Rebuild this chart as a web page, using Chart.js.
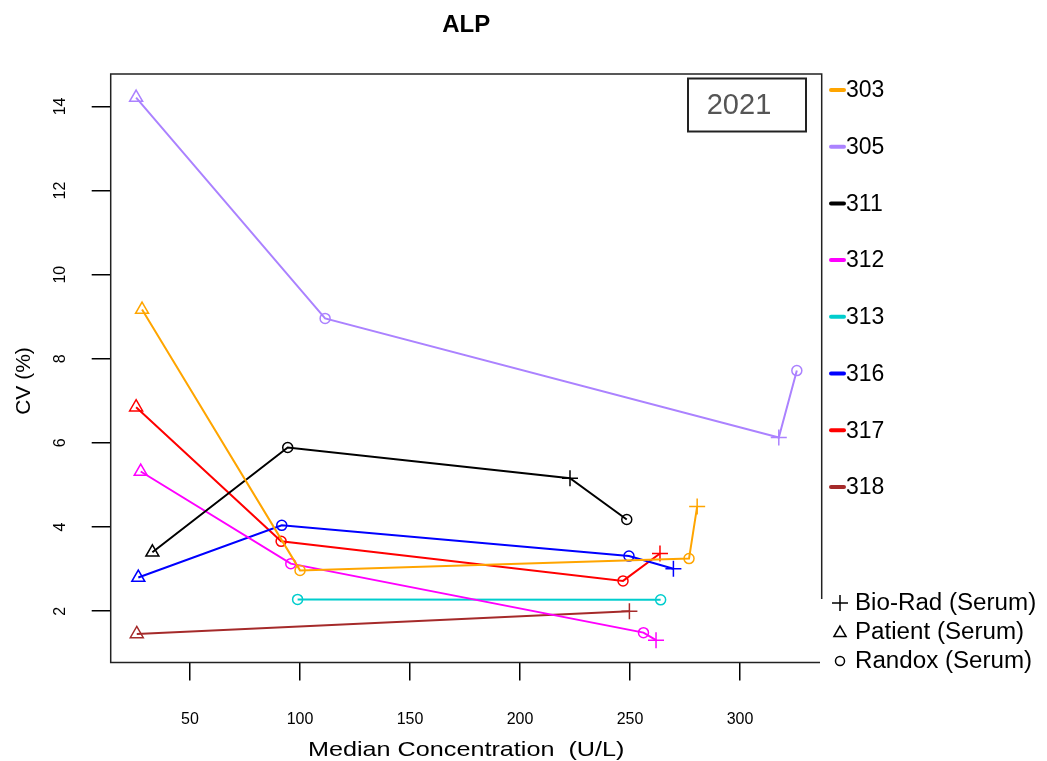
<!DOCTYPE html>
<html>
<head>
<meta charset="utf-8">
<title>ALP</title>
<script src="https://cdn.jsdelivr.net/npm/chart.js@4/dist/chart.umd.min.js"></script>
<style>
  html, body { margin: 0; padding: 0; background: #fff; }
  canvas { display: block; }
</style>
</head>
<body>
<canvas id="cvChart" width="1047" height="761"></canvas>
<script>
// labs, their colours, and per-lab points (sorted by concentration)
const labs = ['303', '305', '311', '312', '313', '316', '317', '318'];
const colours = ['#FFA500', '#AB82FF', '#000000', '#FF00FF', '#00CDCD', '#0000FF', '#FF0000', '#A52A2A'];

const concentrations = [
  [28.2, 100.0, 276.8, 280.5],
  [25.5, 111.4, 317.6, 325.8],
  [32.9, 94.4, 222.7, 248.5],
  [27.6, 95.8, 256.1, 261.8],
  [98.9, 263.9],
  [26.5, 91.7, 249.5, 269.7],
  [25.5, 91.4, 246.8, 263.6],
  [25.8, 249.7]
];
const cvs = [
  [9.17, 2.97, 3.25, 4.49],
  [14.21, 8.96, 6.13, 7.72],
  [3.40, 5.89, 5.16, 4.18],
  [5.32, 3.13, 1.49, 1.31],
  [2.28, 2.27],
  [2.80, 4.04, 3.31, 3.01],
  [6.85, 3.66, 2.72, 3.37],
  [1.46, 2.00]
];
const materials = [
  ['Patient', 'Randox', 'Randox', 'Bio-Rad'],
  ['Patient', 'Randox', 'Bio-Rad', 'Randox'],
  ['Patient', 'Randox', 'Bio-Rad', 'Randox'],
  ['Patient', 'Randox', 'Randox', 'Bio-Rad'],
  ['Randox', 'Randox'],
  ['Patient', 'Randox', 'Randox', 'Bio-Rad'],
  ['Patient', 'Randox', 'Randox', 'Bio-Rad'],
  ['Patient', 'Bio-Rad']
];

const materialNames = ['Bio-Rad (Serum)', 'Patient (Serum)', 'Randox (Serum)'];
const xTicks = [50, 100, 150, 200, 250, 300];
const yTicks = [2, 4, 6, 8, 10, 12, 14];

const FONT = '"Liberation Sans", Arial, Helvetica, sans-serif';
const markStyle = { 'Bio-Rad': 'cross', 'Patient': 'triangle', 'Randox': 'circle' };
const markSize = { 'Bio-Rad': 8, 'Patient': 7.5, 'Randox': 5 };

const datasets = labs.map((lab, i) => ({
  label: lab,
  data: concentrations[i].map((x, j) => ({ x: x, y: cvs[i][j] })),
  showLine: true,
  borderColor: colours[i],
  borderWidth: 2,
  tension: 0,
  pointStyle: materials[i].map(m => markStyle[m]),
  pointRadius: materials[i].map(m => markSize[m]),
  pointBorderColor: colours[i],
  pointBackgroundColor: 'rgba(0,0,0,0)',
  pointBorderWidth: 1.5
}));

// text stretched a little wider, like the R device font
function wideText(ctx, text, x, y, sx) {
  ctx.save();
  ctx.translate(x, y);
  ctx.scale(sx, 1);
  ctx.fillText(text, 0, 0);
  ctx.restore();
}

// frame, titles, year box and the two side legends, drawn R-style
const rFrame = {
  id: 'rFrame',
  afterDraw(chart) {
    const ctx = chart.ctx;
    const a = chart.chartArea;
    ctx.save();

    ctx.strokeStyle = '#222';
    ctx.lineWidth = 1.5;
    ctx.strokeRect(a.left, a.top, a.right - a.left, a.bottom - a.top);

    ctx.fillStyle = '#000';
    ctx.textAlign = 'center';
    ctx.textBaseline = 'middle';
    ctx.font = 'bold 24px ' + FONT;
    ctx.fillText('ALP', (a.left + a.right) / 2, 25);

    ctx.font = '21px ' + FONT;
    wideText(ctx, 'Median Concentration  (U/L)', (a.left + a.right) / 2, 750, 1.2);

    ctx.save();
    ctx.translate(24, 381);
    ctx.rotate(-Math.PI / 2);
    ctx.font = '21px ' + FONT;
    ctx.fillText('CV (%)', 0, 0);
    ctx.restore();

    // year box
    ctx.lineWidth = 2;
    ctx.strokeRect(688, 78.5, 118, 53);
    ctx.fillStyle = '#555';
    ctx.font = '29px ' + FONT;
    ctx.fillText('2021', 739, 106);

    // lab legend
    ctx.textAlign = 'left';
    ctx.font = '23px ' + FONT;
    labs.forEach((lab, i) => {
      const y = 90 + i * 56.7;
      ctx.strokeStyle = colours[i];
      ctx.lineWidth = 4;
      ctx.lineCap = 'round';
      ctx.beginPath();
      ctx.moveTo(831, y);
      ctx.lineTo(844, y);
      ctx.stroke();
      ctx.fillStyle = '#000';
      ctx.fillText(lab, 846, y + 1);
    });

    // material legend
    ctx.fillStyle = '#fff';
    ctx.fillRect(820, 599, 227, 78);
    ctx.lineCap = 'butt';
    ['Bio-Rad', 'Patient', 'Randox'].forEach((m, i) => {
      const y = 603 + i * 29;
      const r = m === 'Randox' ? 4.5 : (m === 'Patient' ? 7 : 8);
      ctx.strokeStyle = '#000';
      ctx.fillStyle = 'rgba(0,0,0,0)';
      ctx.lineWidth = 1.5;
      Chart.helpers.drawPoint(ctx, { pointStyle: markStyle[m], radius: r, rotation: 0, borderWidth: 1.5 }, 840, y + (m === 'Patient' ? 1 : 0));
      ctx.fillStyle = '#000';
      ctx.font = '23px ' + FONT;
      wideText(ctx, materialNames[i], 855, y + 1, 1.05);
    });

    ctx.restore();
  }
};

new Chart(document.getElementById('cvChart'), {
  type: 'scatter',
  data: { datasets: datasets },
  options: {
    responsive: false,
    animation: false,
    devicePixelRatio: 1,
    layout: { padding: { left: 0, top: 74, right: 225.3, bottom: 0 } },
    plugins: {
      legend: { display: false },
      tooltip: { enabled: false }
    },
    scales: {
      x: {
        type: 'linear',
        min: 13.95,
        max: 337.1,
        afterBuildTicks: s => { s.ticks = xTicks.map(v => ({ value: v })); },
        afterFit: s => { s.height = 98.5; },
        border: { display: false },
        grid: { drawOnChartArea: false, drawTicks: true, tickLength: 18, color: '#000', lineWidth: 1.5 },
        ticks: { color: '#000', padding: 29, font: { family: FONT, size: 16 } }
      },
      y: {
        type: 'linear',
        min: 0.78,
        max: 14.77,
        afterBuildTicks: s => { s.ticks = yTicks.map(v => ({ value: v })); },
        afterFit: s => { s.width = 110.7; },
        border: { display: false },
        grid: { drawOnChartArea: false, drawTicks: true, tickLength: 19, color: '#000', lineWidth: 1.5 },
        ticks: { color: '#000', padding: 22, minRotation: 90, maxRotation: 90, crossAlign: 'center', font: { family: FONT, size: 16 } }
      }
    }
  },
  plugins: [rFrame]
});
</script>
</body>
</html>
